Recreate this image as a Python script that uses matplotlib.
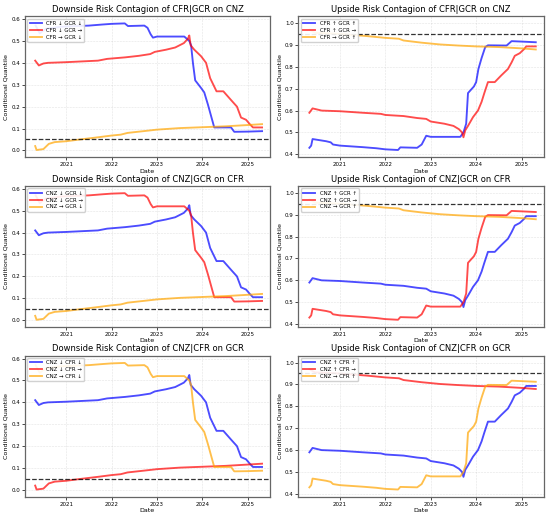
import numpy as np
import pandas as pd
import matplotlib
matplotlib.use('Agg')
import matplotlib.pyplot as plt
import matplotlib.dates as mdates

# values (decimal years -> conditional quantile)
# downside curves
d_high_t = [2020.33, 2020.42, 2020.55, 2020.9, 2021.5, 2021.8, 2022.0, 2022.29, 2022.36, 2022.72,
            2022.79, 2022.86, 2022.91, 2023.0, 2023.6, 2023.71, 2023.75, 2023.79, 2023.84, 2023.97,
            2024.04, 2024.12, 2024.2, 2024.26, 2024.63, 2024.7, 2025.0, 2025.31]
d_high_v = [0.57, 0.535, 0.555, 0.565, 0.57, 0.575, 0.578, 0.58, 0.568, 0.57,
            0.56, 0.53, 0.515, 0.52, 0.52, 0.50, 0.48, 0.40, 0.32, 0.285,
            0.265, 0.21, 0.15, 0.105, 0.105, 0.085, 0.086, 0.088]

d_mid_t = [2020.32, 2020.4, 2020.5, 2020.6, 2021.0, 2021.5, 2021.7, 2021.9, 2022.3, 2022.6,
           2022.85, 2022.95, 2023.2, 2023.4, 2023.59, 2023.68, 2023.71, 2023.74, 2023.82, 2023.97,
           2024.08, 2024.17, 2024.24, 2024.31, 2024.46, 2024.63, 2024.76, 2024.85, 2024.96, 2025.04,
           2025.11, 2025.31]
d_mid_v = [0.41, 0.388, 0.397, 0.40, 0.403, 0.408, 0.41, 0.418, 0.425, 0.432,
           0.44, 0.45, 0.46, 0.47, 0.49, 0.51, 0.525, 0.48, 0.46, 0.43,
           0.40, 0.33, 0.30, 0.27, 0.27, 0.23, 0.20, 0.15, 0.14, 0.12,
           0.105, 0.105]

d_low_t = [2020.32, 2020.35, 2020.5, 2020.62, 2020.75, 2021.0, 2021.3, 2021.7, 2022.0, 2022.2,
           2022.35, 2022.7, 2023.0, 2023.5, 2024.0, 2024.5, 2025.0, 2025.31]
d_low_v = [0.02, 0.002, 0.006, 0.03, 0.038, 0.042, 0.05, 0.06, 0.068, 0.072,
           0.08, 0.088, 0.095, 0.102, 0.106, 0.11, 0.116, 0.12]

# upside curves
u_low_t = [2020.33, 2020.37, 2020.4, 2020.55, 2020.7, 2020.8, 2020.85, 2021.0, 2021.5, 2021.8,
           2022.0, 2022.28, 2022.33, 2022.7, 2022.8, 2022.9, 2023.0, 2023.65, 2023.72, 2023.78,
           2023.82, 2023.95, 2024.0, 2024.05, 2024.12, 2024.2, 2024.26, 2024.67, 2024.78, 2025.0,
           2025.31]
u_low_v = [0.43, 0.44, 0.47, 0.465, 0.46, 0.455, 0.445, 0.44, 0.433, 0.428,
           0.423, 0.42, 0.432, 0.43, 0.445, 0.485, 0.48, 0.48, 0.50, 0.54,
           0.68, 0.71, 0.73, 0.79, 0.84, 0.89, 0.898, 0.897, 0.917, 0.915,
           0.912]

u_mid_t = [2020.33, 2020.4, 2020.5, 2020.6, 2021.0, 2021.5, 2021.9, 2022.0, 2022.4, 2022.7,
           2022.9, 2023.0, 2023.3, 2023.5, 2023.62, 2023.69, 2023.72, 2023.76, 2023.82, 2023.93,
           2024.04, 2024.12, 2024.18, 2024.26, 2024.41, 2024.55, 2024.7, 2024.78, 2024.85, 2024.96,
           2025.05, 2025.1, 2025.31]
u_mid_v = [0.59, 0.61, 0.605, 0.60, 0.597, 0.59, 0.585, 0.58, 0.575, 0.566,
           0.562, 0.55, 0.54, 0.53, 0.515, 0.50, 0.478, 0.51, 0.53, 0.57,
           0.60, 0.64, 0.68, 0.73, 0.73, 0.76, 0.79, 0.82, 0.85, 0.862,
           0.88, 0.893, 0.893]

u_high_t = [2020.33, 2020.45, 2021.0, 2021.3, 2021.6, 2022.0, 2022.3, 2022.4, 2022.8, 2023.2,
            2023.6, 2024.0, 2024.5, 2025.0, 2025.31]
u_high_v = [0.97, 0.955, 0.95, 0.945, 0.94, 0.932, 0.928, 0.92, 0.91, 0.902,
            0.897, 0.893, 0.89, 0.884, 0.879]

titles = ['Downside Risk Contagion of CFR|GCR on CNZ', 'Upside Risk Contagion of CFR|GCR on CNZ',
          'Downside Risk Contagion of CNZ|GCR on CFR', 'Upside Risk Contagion of CNZ|GCR on CFR',
          'Downside Risk Contagion of CNZ|CFR on GCR', 'Upside Risk Contagion of CNZ|CFR on GCR']
labels = [['CFR ↓ GCR ↓', 'CFR ↓ GCR →', 'CFR → GCR ↓'],
          ['CFR ↑ GCR ↑', 'CFR ↑ GCR →', 'CFR → GCR ↑'],
          ['CNZ ↓ GCR ↓', 'CNZ ↓ GCR →', 'CNZ → GCR ↓'],
          ['CNZ ↑ GCR ↑', 'CNZ ↑ GCR →', 'CNZ → GCR ↑'],
          ['CNZ ↓ CFR ↓', 'CNZ ↓ CFR →', 'CNZ → CFR ↓'],
          ['CNZ ↑ CFR ↑', 'CNZ ↑ CFR →', 'CNZ → CFR ↑']]
thresholds = [0.05, 0.95, 0.05, 0.95, 0.05, 0.95]


def to_dates(years):
    years = np.asarray(years)
    base = pd.to_datetime([f'{int(y)}-01-01' for y in years])
    return base + pd.to_timedelta((years - years.astype(int)) * 365.25, unit='D')


d_high = (to_dates(d_high_t), d_high_v)
d_mid = (to_dates(d_mid_t), d_mid_v)
d_low = (to_dates(d_low_t), d_low_v)
u_high = (to_dates(u_high_t), u_high_v)
u_mid = (to_dates(u_mid_t), u_mid_v)
u_low = (to_dates(u_low_t), u_low_v)

# which curve goes to blue / red / orange in each panel
series = [[d_high, d_mid, d_low],
          [u_low, u_mid, u_high],
          [d_mid, d_high, d_low],
          [u_mid, u_low, u_high],
          [d_mid, d_low, d_high],
          [u_mid, u_high, u_low]]
colors = ['blue', 'red', 'orange']


def main():
    fig, axes = plt.subplots(3, 2, figsize=(5.5, 5.15), dpi=100)
    fig.subplots_adjust(left=0.045, right=0.989, top=0.969, bottom=0.035, wspace=0.115, hspace=0.2)
    for i, ax in enumerate(axes.flat):
        for (t, v), c, lab in zip(series[i], colors, labels[i]):
            ax.plot(t, v, color=c, alpha=0.7, lw=1.35, label=lab)
        ax.axhline(thresholds[i], color='black', ls='--', lw=0.9, alpha=0.8)
        ax.set_title(titles[i], fontsize=6, pad=3)
        ax.set_xlabel('Date', fontsize=4.6, labelpad=1)
        ax.set_ylabel('Conditional Quantile', fontsize=4.6, labelpad=2)
        ax.xaxis.set_major_locator(mdates.YearLocator())
        ax.xaxis.set_major_formatter(mdates.DateFormatter('%Y'))
        ax.set_xlim(to_dates([2020.09])[0], to_dates([2025.49])[0])
        if thresholds[i] < 0.5:
            ax.set_ylim(-0.032, 0.614)
        else:
            ax.set_ylim(0.386, 1.032)
        ax.tick_params(labelsize=4.0, length=2, width=0.5, pad=1.5)
        ax.grid(True, ls='--', lw=0.4, alpha=0.35)
        for s in ax.spines.values():
            s.set_color('#666666')
            s.set_linewidth(0.9)
        ax.legend(loc='upper left', fontsize=3.9, handlelength=2.2, borderpad=0.4,
                  labelspacing=0.35, framealpha=0.9, edgecolor='#cccccc', fancybox=True)
    fig.savefig('out.png', dpi=100)


if __name__ == '__main__':
    main()
